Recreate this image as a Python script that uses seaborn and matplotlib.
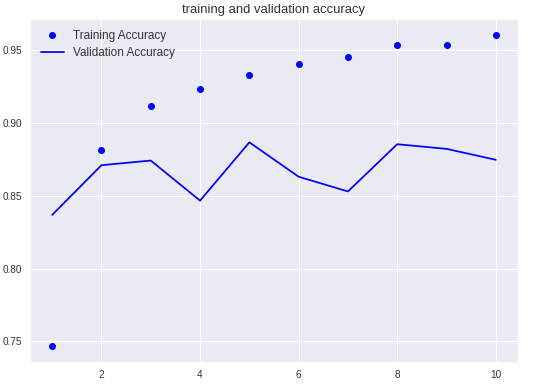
import numpy as np
import pandas as pd
import matplotlib
matplotlib.use("Agg")
import matplotlib.pyplot as plt
import seaborn as sns

# accuracy per epoch
epochs = [1, 2, 3, 4, 5, 6, 7, 8, 9, 10]
train_acc = [0.7466, 0.8814, 0.9114, 0.9230, 0.9330, 0.9400, 0.9448, 0.9534, 0.9534, 0.9605]
val_acc = [0.8368, 0.8709, 0.8741, 0.8466, 0.8866, 0.8630, 0.8529, 0.8853, 0.8821, 0.8746]

df = pd.DataFrame({'epoch': epochs, 'train': train_acc, 'val': val_acc})

sns.set_theme(style="darkgrid")
plt.rcParams['font.family'] = ['Liberation Sans', 'DejaVu Sans']

f, ax = plt.subplots(figsize=(546 / 72, 386 / 72), dpi=72)
f.subplots_adjust(left=30 / 546, right=518 / 546, bottom=1 - 362 / 386, top=1 - 19 / 386)

sns.scatterplot(data=df, x='epoch', y='train', color='blue', s=49, linewidth=0,
                label='Training Accuracy', ax=ax)
sns.lineplot(data=df, x='epoch', y='val', color='blue', linewidth=1.75,
             label='Validation Accuracy', ax=ax)

ax.set_title('training and validation accuracy', fontsize=13, color='.2')
ax.set_xlabel('')
ax.set_ylabel('')
ax.tick_params(labelsize=10, labelcolor='.2', length=0)
ax.tick_params(axis='y', pad=8)
ax.tick_params(axis='x', pad=8)
leg = ax.legend(loc='upper left', fontsize=11.7, frameon=False)
for t in leg.get_texts():
    t.set_color('.2')

plt.savefig('out.png', dpi=72)
